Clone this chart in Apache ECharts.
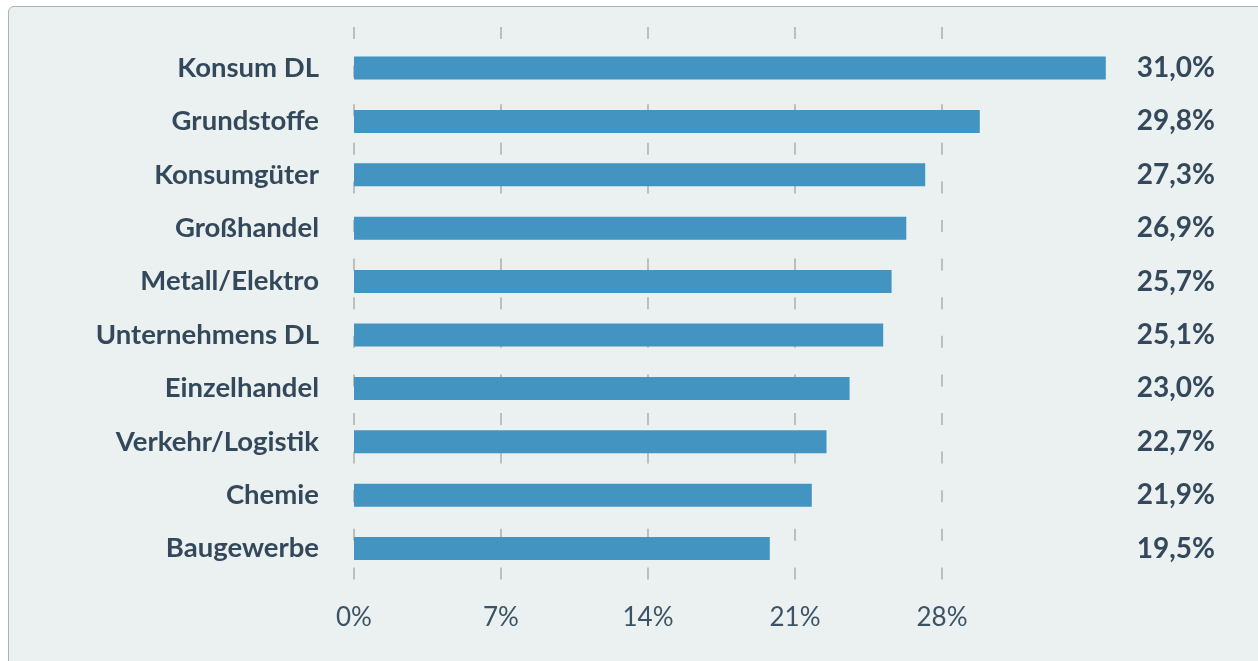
<!DOCTYPE html>
<html>
<head>
<meta charset="utf-8">
<script src="https://cdn.jsdelivr.net/npm/echarts@6/dist/echarts.min.js"></script>
<style>
  html, body { margin: 0; padding: 0; background: #ffffff; overflow: hidden; }
  #panel {
    position: absolute; left: 8px; top: 6px; width: 1300px; height: 700px;
    background: #ebf0f1; border: 1.5px solid #a9b4b3; border-radius: 6px;
  }
  #chart { position: absolute; left: 0; top: 0; width: 1258px; height: 661px; }
</style>
</head>
<body>
<div id="panel"></div>
<div id="chart"></div>
<script>
  // Branchen (von oben nach unten)
  var categories = ['Konsum DL', 'Grundstoffe', 'Konsumgüter', 'Großhandel', 'Metall/Elektro',
    'Unternehmens DL', 'Einzelhandel', 'Verkehr/Logistik', 'Chemie', 'Baugewerbe'];
  var barValues = [35.8, 29.8, 27.2, 26.3, 25.6, 25.2, 23.6, 22.5, 21.8, 19.8];
  // Beschriftung rechts
  var valueLabels = ['31,0%', '29,8%', '27,3%', '26,9%', '25,7%', '25,1%', '23,0%', '22,7%', '21,9%', '19,5%'];
  // Achse
  var axisMin = 0, axisMax = 28, axisStep = 7;

  var textColor = '#33495b';
  var chart = echarts.init(document.getElementById('chart'));

  var option = {
    backgroundColor: 'transparent',
    animation: false,
    grid: [
      { left: 354, right: 316, top: 27, bottom: 80 },      // Gitterlinien + Achse
      { left: 354, right: 316, top: 41.3, bottom: 85.7 }   // Balken
    ],
    xAxis: [
      {
        gridIndex: 0, type: 'value', min: axisMin, max: axisMax, interval: axisStep,
        axisLine: { show: false }, axisTick: { show: false },
        axisLabel: {
          formatter: '{value}%', color: '#3b5364', fontFamily: 'Lato',
          fontSize: 26, margin: 24
        },
        splitLine: {
          show: true,
          lineStyle: { color: '#aab5b9', width: 1.6, type: [12, 26.6] }
        }
      },
      {
        gridIndex: 1, type: 'value', min: axisMin, max: axisMax, show: false
      }
    ],
    yAxis: [
      { gridIndex: 0, type: 'value', show: false },
      {
        gridIndex: 1, type: 'category', data: categories, inverse: true,
        axisLine: { show: false }, axisTick: { show: false }, splitLine: { show: false },
        axisLabel: {
          color: textColor, fontFamily: 'Lato', fontWeight: 'bold',
          fontSize: 27.5, margin: 35
        }
      },
      {
        gridIndex: 1, type: 'category', data: valueLabels, inverse: true, position: 'right',
        axisLine: { show: false }, axisTick: { show: false }, splitLine: { show: false },
        axisLabel: {
          color: textColor, fontFamily: 'Lato', fontWeight: 'bold',
          fontSize: 28, margin: 273, align: 'right'
        }
      }
    ],
    series: [
      {
        type: 'bar',
        xAxisIndex: 1,
        yAxisIndex: 1,
        data: barValues,
        barWidth: 23,
        clip: false,
        itemStyle: { color: '#4394c0' }
      }
    ]
  };

  chart.setOption(option);
</script>
</body>
</html>
